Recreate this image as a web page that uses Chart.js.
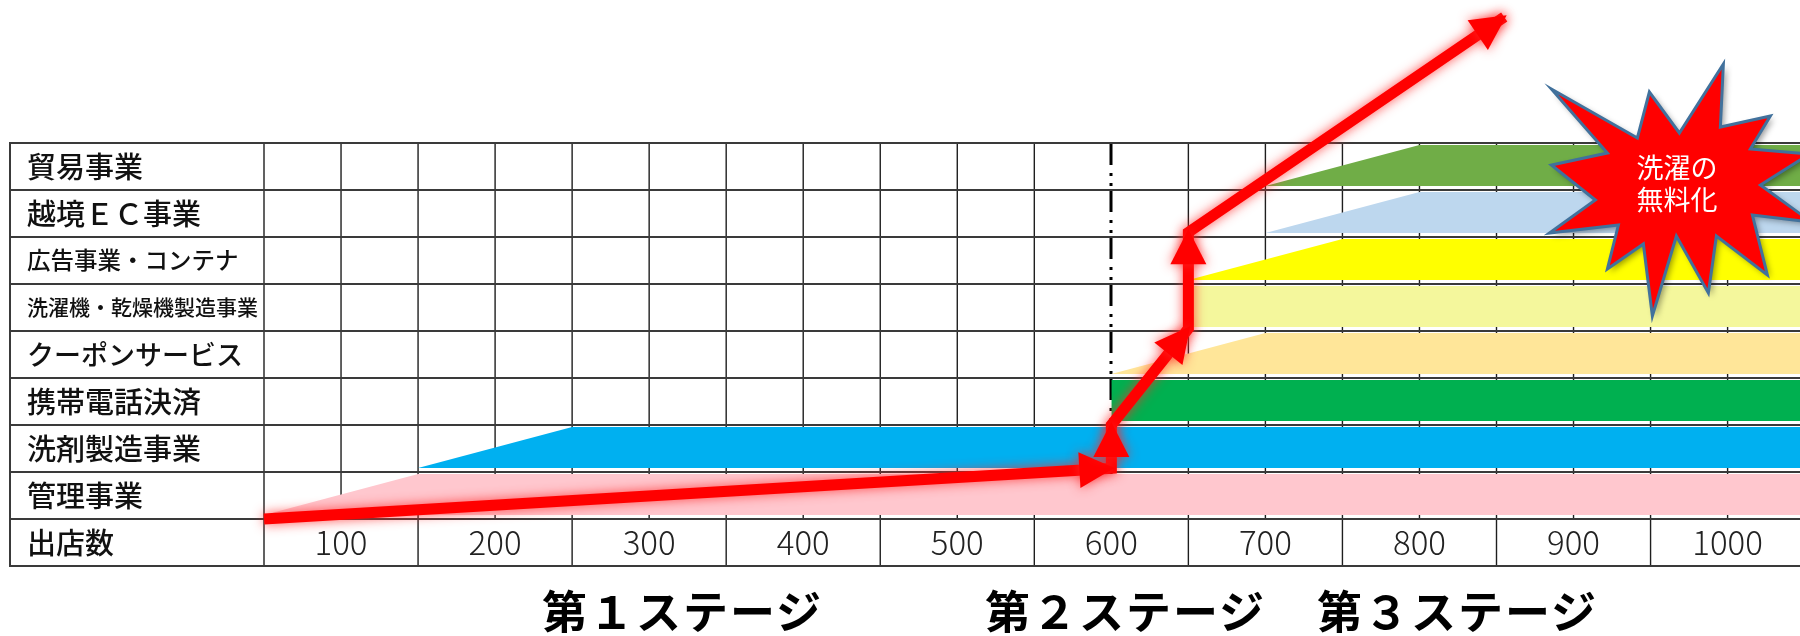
<!DOCTYPE html>
<html lang="ja">
<head>
<meta charset="utf-8">
<title>出店数と事業展開</title>
<script src="https://cdn.jsdelivr.net/npm/chart.js@4.4.1/dist/chart.umd.min.js"></script>
<style>
  html, body { margin: 0; padding: 0; background: #fff; overflow: hidden; }
  #wrap { position: relative; width: 1800px; height: 636px; }
  #chart { position: absolute; left: 0; top: 0; }
  .stage {
    position: absolute; top: 587px;
    font-family: "Noto Sans CJK JP", sans-serif; font-weight: 700;
    font-size: 45px; line-height: 45px; letter-spacing: 2px;
    color: #000; white-space: nowrap;
  }
  .burst {
    position: absolute; left: 1597px; top: 151px; width: 160px; text-align: center;
    font-family: "Noto Sans CJK JP", sans-serif; font-size: 27px; line-height: 32px; color: #fff;
  }
</style>
</head>
<body>
<div id="wrap">
  <canvas id="chart" width="1800" height="636"></canvas>
  <div class="stage" style="left:542px">第１ステージ</div>
  <div class="stage" style="left:985px">第２ステージ</div>
  <div class="stage" style="left:1317px">第３ステージ</div>
  <div class="burst">洗濯の<br>無料化</div>
</div>
<script>
// Row labels, bottom to top
const rowLabels = ['出店数', '管理事業', '洗剤製造事業', '携帯電話決済', 'クーポンサービス',
    '洗濯機・乾燥機製造事業', '広告事業・コンテナ', '越境ＥＣ事業', '貿易事業'];

// Store count axis
const tickValues = [100, 200, 300, 400, 500, 600, 700, 800, 900, 1000];
const tickLabels = ['100', '200', '300', '400', '500', '600', '700', '800', '900', '1000'];

// Businesses (管理事業 first): store count where each starts, and where it is fully running
const bandStart = [50, 150, 600, 600, 650, 650, 700, 700];
const bandFull = [150, 250, 600, 700, 650, 750, 800, 800];

// Growth route of the red arrow: store count / row level
const routeStores = [50, 600, 600, 650, 650, 855];
const routeLevel = [0, 1.08, 2, 4.05, 6.1, 10.68];

// Stage 2 boundary (dash-dot line)
const stageLine = 600;

// ---- styles ----
const bandColors = ['#FFC7CE', '#00B0F0', '#00B050', '#FFE699', '#F4F79C', '#FFFF00', '#BDD7EE', '#70AD47'];
const labelSizes = [29, 29, 29, 29, 27, 21, 23.5, 29, 29];
const X_MIN = 50, X_MAX = 1047;
const ROW_PX = 47;
const GAP_TOP = 2 / ROW_PX, GAP_BOTTOM = 4 / ROW_PX;
const TABLE_LEFT = 10;
const PAD_LEFT = 27, LABEL_EDGE = 264;

const bandDatasets = bandStart.map((start, i) => {
    const yb = i + GAP_BOTTOM;
    const yt = i + 1 - GAP_TOP;
    return {
        label: rowLabels[i + 1],
        data: [{ x: start, y: yb }, { x: bandFull[i], y: yt }, { x: X_MAX, y: yt }],
        fill: { value: yb },
        backgroundColor: bandColors[i],
        borderWidth: 0
    };
});

const arrowDataset = {
    label: '出店数',
    data: routeStores.map((x, i) => ({ x, y: routeLevel[i] })),
    borderColor: '#FF0000',
    borderWidth: 11,
    borderJoinStyle: 'miter',
    borderCapStyle: 'butt',
    fill: false,
    clip: false
};

// Table lines drawn through the scales
const tableGrid = {
    id: 'tableGrid',
    beforeDatasetsDraw(chart) {
        const { ctx, chartArea, scales: { x, y } } = chart;
        const top = y.getPixelForValue(8);
        const bottom = y.getPixelForValue(-1);
        const rowLine = y.getPixelForValue(0);
        const seg = (x1, y1, x2, y2) => {
            ctx.beginPath(); ctx.moveTo(x1, y1); ctx.lineTo(x2, y2); ctx.stroke();
        };
        ctx.save();
        ctx.lineCap = 'butt';
        ctx.strokeStyle = '#1e1e1e';
        ctx.lineWidth = 1.4;
        for (let v = 100; v <= 1050; v += 50) {
            if (v === stageLine) continue;
            const px = x.getPixelForValue(v);
            seg(px, top, px, rowLine);
        }
        for (let v = 150; v <= 1050; v += 100) {
            const px = x.getPixelForValue(v);
            seg(px, rowLine, px, bottom);
        }
        seg(chartArea.left, top, chartArea.left, bottom);

        // dash-dot boundary
        const sx = Math.round(x.getPixelForValue(stageLine));
        ctx.strokeStyle = '#000';
        ctx.lineWidth = 3;
        ctx.setLineDash([22, 8, 3, 7, 3, 4]);
        seg(sx, top, sx, rowLine);
        ctx.setLineDash([]);

        ctx.strokeStyle = '#3a3a3a';
        ctx.lineWidth = 2;
        for (let r = -1; r <= 8; r++) {
            const py = y.getPixelForValue(r);
            seg(TABLE_LEFT, py, chartArea.right, py);
        }
        seg(TABLE_LEFT, top - 1, TABLE_LEFT, bottom + 1);
        ctx.restore();
    }
};

// Glow + arrow heads for the route line
const arrowGlow = {
    id: 'arrowGlow',
    beforeDatasetDraw(chart, args) {
        if (args.index !== 0) return;
        const ctx = chart.ctx;
        ctx.save();
        ctx.shadowColor = 'rgba(255, 40, 40, 0.8)';
        ctx.shadowBlur = 12;
    },
    afterDatasetDraw(chart, args) {
        if (args.index !== 0) return;
        const ctx = chart.ctx;
        const pts = args.meta.data;
        const len = 35, half = 18, over = 3;
        ctx.fillStyle = '#FF0000';
        for (let i = 1; i < pts.length; i++) {
            const a = pts[i - 1], b = pts[i];
            const d = Math.hypot(b.x - a.x, b.y - a.y);
            const ux = (b.x - a.x) / d, uy = (b.y - a.y) / d;
            const tx = b.x + ux * over, ty = b.y + uy * over;
            const bx = tx - ux * len, by = ty - uy * len;
            ctx.beginPath();
            ctx.moveTo(tx, ty);
            ctx.lineTo(bx - uy * half, by + ux * half);
            ctx.lineTo(bx + uy * half, by - ux * half);
            ctx.closePath();
            ctx.fill();
        }
        ctx.restore();
    }
};

// Starburst callout
const BURST = [[-130, -101], [-44, -52], [-32, -98], [-2, -57], [42, -126], [39, -63], [89, -74], [69, -41],
    [128, -36], [79, -5], [130, 32], [71, 25], [86, 85], [35, 46], [27, 103], [-5, 46], [-29, 126], [-38, 54],
    [-74, 79], [-63, 35], [-132, 43], [-86, 10], [-130, -25], [-74, -37]];
const burst = {
    id: 'burst',
    afterDraw(chart, args, opts) {
        const { ctx, scales: { x, y } } = chart;
        const cx = x.getPixelForValue(opts.x), cy = y.getPixelForValue(opts.y);
        ctx.save();
        ctx.beginPath();
        BURST.forEach(([dx, dy], i) => i ? ctx.lineTo(cx + dx, cy + dy) : ctx.moveTo(cx + dx, cy + dy));
        ctx.closePath();
        ctx.shadowColor = 'rgba(0, 0, 0, 0.4)';
        ctx.shadowBlur = 6;
        ctx.shadowOffsetX = 3;
        ctx.shadowOffsetY = 3;
        ctx.fillStyle = '#FF0000';
        ctx.fill();
        ctx.shadowColor = 'transparent';
        ctx.strokeStyle = '#41719C';
        ctx.lineWidth = 3;
        ctx.lineJoin = 'miter';
        ctx.stroke();
        ctx.restore();
    }
};

new Chart(document.getElementById('chart'), {
    type: 'line',
    data: { datasets: [arrowDataset, ...bandDatasets] },
    options: {
        responsive: false,
        animation: false,
        events: [],
        elements: { point: { radius: 0 }, line: { tension: 0 } },
        layout: { padding: { left: PAD_LEFT, top: 143, right: 0, bottom: 70 } },
        plugins: {
            legend: { display: false },
            tooltip: { enabled: false },
            burst: { x: 970, y: 7 }
        },
        scales: {
            x: {
                type: 'linear',
                min: X_MIN,
                max: X_MAX,
                position: { y: 0 },
                grid: { display: false, drawTicks: false },
                border: { display: false },
                afterBuildTicks: s => { s.ticks = tickValues.map(v => ({ value: v })); },
                ticks: {
                    autoSkip: false,
                    maxRotation: 0,
                    padding: 4,
                    color: '#222',
                    font: { family: "'Noto Sans CJK JP', sans-serif", size: 33, weight: 300 },
                    callback: (v, i) => tickLabels[i]
                }
            },
            y: {
                type: 'linear',
                min: -1,
                max: 8,
                grid: { display: false, drawTicks: false },
                border: { display: false },
                afterBuildTicks: s => { s.ticks = rowLabels.map((_, i) => ({ value: i - 0.5 })); },
                afterFit: s => { s.width = LABEL_EDGE - PAD_LEFT; },
                ticks: {
                    autoSkip: false,
                    crossAlign: 'far',
                    padding: 0,
                    color: '#111',
                    font: c => ({ family: "'Noto Sans CJK JP', sans-serif", size: labelSizes[c.index], weight: 500 }),
                    callback: (v, i) => rowLabels[i]
                }
            }
        }
    },
    plugins: [tableGrid, arrowGlow, burst]
});
</script>
</body>
</html>
